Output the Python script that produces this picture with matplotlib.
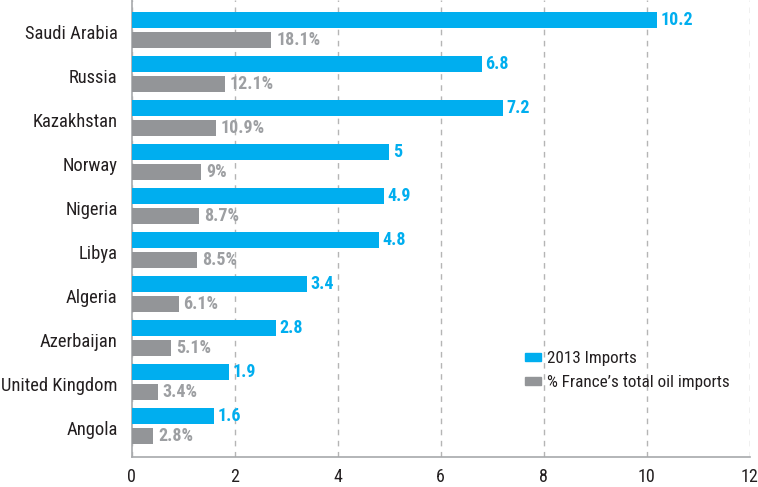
import matplotlib
matplotlib.use("Agg")
import matplotlib.pyplot as plt
import matplotlib.patches as mpatches
import numpy as np

# --- data ---
countries = ["Saudi Arabia", "Russia", "Kazakhstan", "Norway", "Nigeria",
             "Libya", "Algeria", "Azerbaijan", "United Kingdom", "Angola"]
imports_2013 = [10.2, 6.8, 7.2, 5, 4.9, 4.8, 3.4, 2.8, 1.9, 1.6]
imports_labels = ["10.2", "6.8", "7.2", "5", "4.9", "4.8", "3.4", "2.8", "1.9", "1.6"]
share_pct = [18.1, 12.1, 10.9, 9, 8.7, 8.5, 6.1, 5.1, 3.4, 2.8]
share_labels = ["18.1%", "12.1%", "10.9%", "9%", "8.7%", "8.5%", "6.1%", "5.1%", "3.4%", "2.8%"]
x_ticks = [0, 2, 4, 6, 8, 10, 12]
legend_labels = ["2013 Imports", "% France\u2019s total oil imports"]

# --- colours ---
blue = "#00AEEF"
gray_bar = "#939598"
gray_text = "#9D9FA2"
text_dark = "#231F20"
grid_col = "#B5B5B5"

plt.rcParams["font.family"] = ["Roboto Condensed", "DejaVu Sans"]

fig = plt.figure(figsize=(7.58, 4.87), dpi=100)
ax = fig.add_axes([0.1735, 0.0616, 0.8159, 0.9384])
ax2 = ax.twiny()  # percentage scale for the gray bars
ax2.set_xlim(0, 80)

y = np.arange(len(countries))
h = 0.36
off = 0.227

ax.barh(y - off, imports_2013, height=h, color=blue, zorder=3)
ax2.barh(y + off, share_pct, height=h, color=gray_bar, zorder=3)

for yi, v, lab in zip(y, imports_2013, imports_labels):
    ax.annotate(lab, (v, yi - off), xytext=(2.5, 0), textcoords="offset points",
                va="center", ha="left", color=blue, fontsize=13, fontweight="bold")
for yi, v, lab in zip(y, share_pct, share_labels):
    ax2.annotate(lab, (v, yi + off), xytext=(3.5, 0), textcoords="offset points",
                 va="center", ha="left", color=gray_text, fontsize=13, fontweight="bold")

ax.set_xlim(0, 12)
ax.set_ylim(9.7, -0.68)
ax2.set_ylim(9.7, -0.68)
ax.set_xticks(x_ticks)
ax.set_xticklabels([str(t) for t in x_ticks], fontsize=13, color=text_dark)
ax.set_yticks(y + 0.05)
ax.set_yticklabels(countries, fontsize=13.3, color=text_dark)
ax.tick_params(axis="both", length=0)
ax.tick_params(axis="y", pad=10)
ax.tick_params(axis="x", pad=8)

ax.grid(axis="x", linestyle=(0, (4, 4)), color=grid_col, linewidth=1, zorder=0)
ax.set_axisbelow(True)
for s in ["top", "right"]:
    ax.spines[s].set_visible(False)
for s in ["left", "bottom"]:
    ax.spines[s].set_color("#A7A9AC")
    ax.spines[s].set_linewidth(1.2)

ax2.set_xticks([])
for s in ax2.spines.values():
    s.set_visible(False)

handles = [mpatches.Patch(color=blue, label=legend_labels[0]),
           mpatches.Patch(color=gray_bar, label=legend_labels[1])]
ax2.legend(handles=handles, loc="upper left", bbox_to_anchor=(510 / 758, 1 - 336 / 487),
           bbox_transform=fig.transFigure, frameon=False, fontsize=12.3,
           handlelength=0.9, handleheight=0.35, handletextpad=0.35, labelspacing=0.5,
           labelcolor=text_dark)

fig.savefig("out.png", dpi=100)
